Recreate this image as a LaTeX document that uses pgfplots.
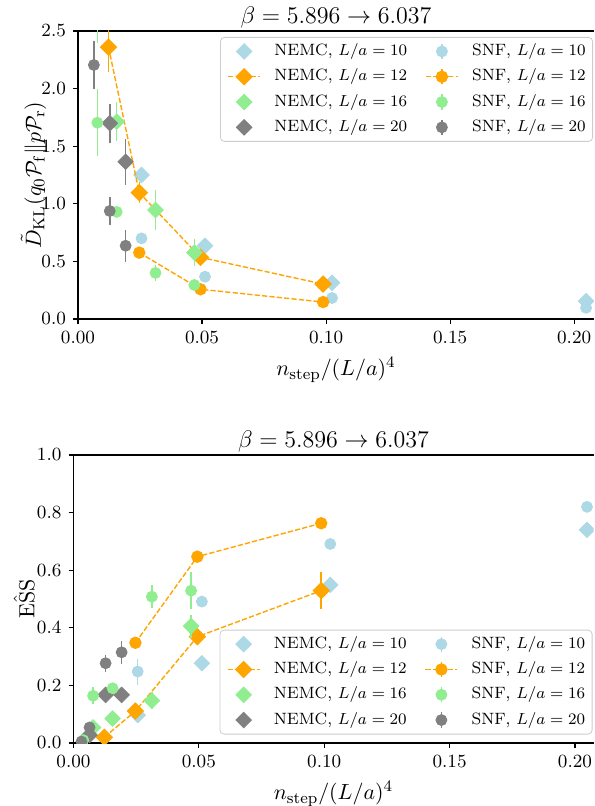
\documentclass[border=0pt]{standalone}
\usepackage{pgfplots}
\pgfplotsset{compat=1.18}
\usepackage{pgfplotstable}

\definecolor{lblue}{HTML}{ADD8E6}
\definecolor{orng}{HTML}{FFA500}
\definecolor{lgreen}{HTML}{90EE90}
\definecolor{gry}{HTML}{808080}
\definecolor{legframe}{HTML}{CCCCCC}

% --- D_KL (top) ---
\pgfplotstableread{
x y e
0.0256 1.25 0
0.0512 0.636 0
0.1024 0.314 0
0.2048 0.155 0
}\klNten
\pgfplotstableread{
x y e
0.0256 0.70 0
0.0512 0.367 0
0.1024 0.182 0
0.2048 0.097 0
}\klSten
\pgfplotstableread{
x y e
0.0123 2.36 0.22
0.0247 1.096 0.09
0.0494 0.535 0.06
0.0988 0.303 0.02
}\klNtw
\pgfplotstableread{
x y e
0.0247 0.576 0.02
0.0494 0.258 0.02
0.0988 0.147 0.01
}\klStw
\pgfplotstableread{
x y e
0.0078 2.80 0.40
0.0156 1.713 0.17
0.03125 0.946 0.17
0.0469 0.576 0.12
}\klNsx
\pgfplotstableread{
x y e
0.0078 1.704 0.29
0.0156 0.93 0.05
0.03125 0.40 0.07
0.0469 0.295 0.05
}\klSsx
\pgfplotstableread{
x y e
0.0128 1.70 0.17
0.0192 1.365 0.20
}\klNtwe
\pgfplotstableread{
x y e
0.0064 2.205 0.21
0.0128 0.9375 0.12
0.0192 0.636 0.14
}\klStwe

% --- ESS (bottom) ---
\pgfplotstableread{
x y e
0.0256 0.097 0
0.0512 0.277 0
0.1024 0.549 0
0.2048 0.74 0
}\esNten
\pgfplotstableread{
x y e
0.0256 0.248 0.045
0.0512 0.491 0.02
0.1024 0.691 0.01
0.2048 0.82 0
}\esSten
\pgfplotstableread{
x y e
0.0123 0.020 0
0.0247 0.111 0.01
0.0494 0.369 0.01
0.0988 0.529 0.064
}\esNtw
\pgfplotstableread{
x y e
0.0247 0.348 0.01
0.0494 0.647 0.01
0.0988 0.763 0.01
}\esStw
\pgfplotstableread{
x y e
0.0078 0.054 0
0.0156 0.085 0
0.03125 0.147 0.03
0.0469 0.406 0.04
}\esNsx
\pgfplotstableread{
x y e
0.0039 0.01 0
0.0078 0.164 0.03
0.0156 0.19 0.01
0.03125 0.508 0.04
0.0469 0.529 0.065
}\esSsx
\pgfplotstableread{
x y e
0.0064 0.028 0
0.0128 0.167 0
0.0192 0.167 0
}\esNtwe
\pgfplotstableread{
x y e
0.0032 0.005 0
0.0064 0.054 0.01
0.0128 0.277 0.03
0.0192 0.315 0.04
}\esStwe

\pgfplotsset{
  errs/.style={/pgfplots/error bars/y dir=both, /pgfplots/error bars/y explicit,
    /pgfplots/error bars/error bar style={line width=0.75pt, solid},
    /pgfplots/error bars/error mark=none},
  nemc/.style={color=#1, mark=square*, mark size=2.75pt,
    mark options={rotate=45, solid, fill=#1, draw=none}},
  snf/.style={color=#1, mark=*, mark size=2.75pt,
    mark options={solid, fill=#1, draw=none}},
  dline/.style={line width=0.7pt, dash pattern=on 2.6pt off 1.1pt},
  snfleg/.style={legend image code/.code={
      \draw[##1, opacity=1, mark=none, solid, line width=0.75pt] (8pt,-3.8pt) -- (8pt,3.8pt);
      \draw[mark repeat=2, mark phase=2, ##1, opacity=1] plot coordinates {(0pt,0pt) (8pt,0pt) (16pt,0pt)};}},
  nemcleg/.style={legend image code/.code={
      \draw[mark repeat=2, mark phase=2, ##1, opacity=1] plot coordinates {(0pt,0pt) (8pt,0pt) (16pt,0pt)};}},
  every axis title shift=0pt,
  panel/.style={
    scale only axis, height=144pt, xmin=0, ymin=0,
    axis x line=box, axis y line=left,
    axis line style={-, line width=0.55pt},
    tick align=outside, tick pos=left,
    major tick length=2.5pt,
    every tick/.style={black, line width=0.55pt},
    xtick={0,0.05,0.1,0.15,0.2},
    xticklabels={0.00,0.05,0.10,0.15,0.20},
    tick label style={font=\fontsize{9.3}{11}\selectfont},
    label style={font=\fontsize{11}{13}\selectfont},
    title style={font=\fontsize{12.7}{14}\selectfont,
      at={(axis description cs:0.5,1)}, anchor=base, yshift=3.65pt},
    title={$\beta = 5.896 \to 6.037$},
    xlabel={$n_{\mathrm{step}}/(L/a)^4$},
    clip marker paths=true,
    legend columns=2, legend cell align=left,
    legend style={font=\fontsize{8.2}{9.5}\selectfont,
      draw=legframe, rounded corners=2pt, fill=white, fill opacity=0.8, text opacity=1,
      inner xsep=3.5pt, inner ysep=2.85pt, row sep=4.3pt,
      nodes={inner xsep=0pt, inner ysep=0pt, text height=6pt, text depth=1.8pt, anchor=west},
      /tikz/every odd column/.append style={column sep=6.75pt},
      /tikz/every even column/.append style={column sep=9pt}},
  },
}

\begin{document}
\begin{tikzpicture}
\begin{axis}[panel, at={(0,0)}, anchor=south west,
    width=258pt, xmax=0.208, ymax=2.5,
    ytick={0,0.5,1,1.5,2,2.5},
    yticklabels={0.0,0.5,1.0,1.5,2.0,2.5},
    ylabel style={at={(axis description cs:-0.086,0.5)}, anchor=center},
    ylabel={$\tilde{D}_{\mathrm{KL}}(q_0\mathcal{P}_{\mathrm{f}}\|p\mathcal{P}_{\mathrm{r}})$},
    legend style={at={(1,1)}, anchor=north east, xshift=-0.5pt, yshift=-3pt}]
  \addlegendimage{nemc=lblue, only marks, nemcleg}
  \addlegendentry{NEMC, $L/a = 10$}
  \addlegendimage{snf=lblue, only marks, snfleg}
  \addlegendentry{SNF, $L/a = 10$}
  \addlegendimage{nemc=orng, dline, nemcleg}
  \addlegendentry{NEMC, $L/a = 12$}
  \addlegendimage{snf=orng, dline, snfleg}
  \addlegendentry{SNF, $L/a = 12$}
  \addlegendimage{nemc=lgreen, only marks, nemcleg}
  \addlegendentry{NEMC, $L/a = 16$}
  \addlegendimage{snf=lgreen, only marks, snfleg}
  \addlegendentry{SNF, $L/a = 16$}
  \addlegendimage{nemc=gry, only marks, nemcleg}
  \addlegendentry{NEMC, $L/a = 20$}
  \addlegendimage{snf=gry, only marks, snfleg}
  \addlegendentry{SNF, $L/a = 20$}

  \addplot[forget plot, nemc=lblue, only marks, errs] table[y error=e] {\klNten};
  \addplot[forget plot, nemc=orng, dline, errs] table[y error=e] {\klNtw};
  \addplot[forget plot, nemc=lgreen, only marks, errs] table[y error=e] {\klNsx};
  \addplot[forget plot, nemc=gry, only marks, errs] table[y error=e] {\klNtwe};
  \addplot[forget plot, snf=lblue, only marks, errs] table[y error=e] {\klSten};
  \addplot[forget plot, snf=orng, dline, errs] table[y error=e] {\klStw};
  \addplot[forget plot, snf=lgreen, only marks, errs] table[y error=e] {\klSsx};
  \addplot[forget plot, snf=gry, only marks, errs] table[y error=e] {\klStwe};
\end{axis}

\begin{axis}[panel, at={(-2.25pt,-212pt)}, anchor=south west,
    width=260pt, xmax=0.2074, ymax=1.0,
    ytick={0,0.2,0.4,0.6,0.8,1.0},
    yticklabels={0.0,0.2,0.4,0.6,0.8,1.0},
    ylabel style={at={(axis description cs:-0.095,0.5)}, anchor=center},
    ylabel={$\hat{\mathrm{ESS}}$},
    legend style={at={(1,0)}, anchor=south east, xshift=-0.5pt, yshift=4.25pt}]
  \addlegendimage{nemc=lblue, only marks, nemcleg}
  \addlegendentry{NEMC, $L/a = 10$}
  \addlegendimage{snf=lblue, only marks, snfleg}
  \addlegendentry{SNF, $L/a = 10$}
  \addlegendimage{nemc=orng, dline, nemcleg}
  \addlegendentry{NEMC, $L/a = 12$}
  \addlegendimage{snf=orng, dline, snfleg}
  \addlegendentry{SNF, $L/a = 12$}
  \addlegendimage{nemc=lgreen, only marks, nemcleg}
  \addlegendentry{NEMC, $L/a = 16$}
  \addlegendimage{snf=lgreen, only marks, snfleg}
  \addlegendentry{SNF, $L/a = 16$}
  \addlegendimage{nemc=gry, only marks, nemcleg}
  \addlegendentry{NEMC, $L/a = 20$}
  \addlegendimage{snf=gry, only marks, snfleg}
  \addlegendentry{SNF, $L/a = 20$}

  \addplot[forget plot, nemc=lblue, only marks, errs] table[y error=e] {\esNten};
  \addplot[forget plot, nemc=orng, dline, errs] table[y error=e] {\esNtw};
  \addplot[forget plot, nemc=lgreen, only marks, errs] table[y error=e] {\esNsx};
  \addplot[forget plot, nemc=gry, only marks, errs] table[y error=e] {\esNtwe};
  \addplot[forget plot, snf=lblue, only marks, errs] table[y error=e] {\esSten};
  \addplot[forget plot, snf=orng, dline, errs] table[y error=e] {\esStw};
  \addplot[forget plot, snf=lgreen, only marks, errs] table[y error=e] {\esSsx};
  \addplot[forget plot, snf=gry, only marks, errs] table[y error=e] {\esStwe};
\end{axis}

\pgfresetboundingbox
\path[use as bounding box] (-39pt,-243.5pt) rectangle (258pt,159.5pt);
\end{tikzpicture}
\end{document}
